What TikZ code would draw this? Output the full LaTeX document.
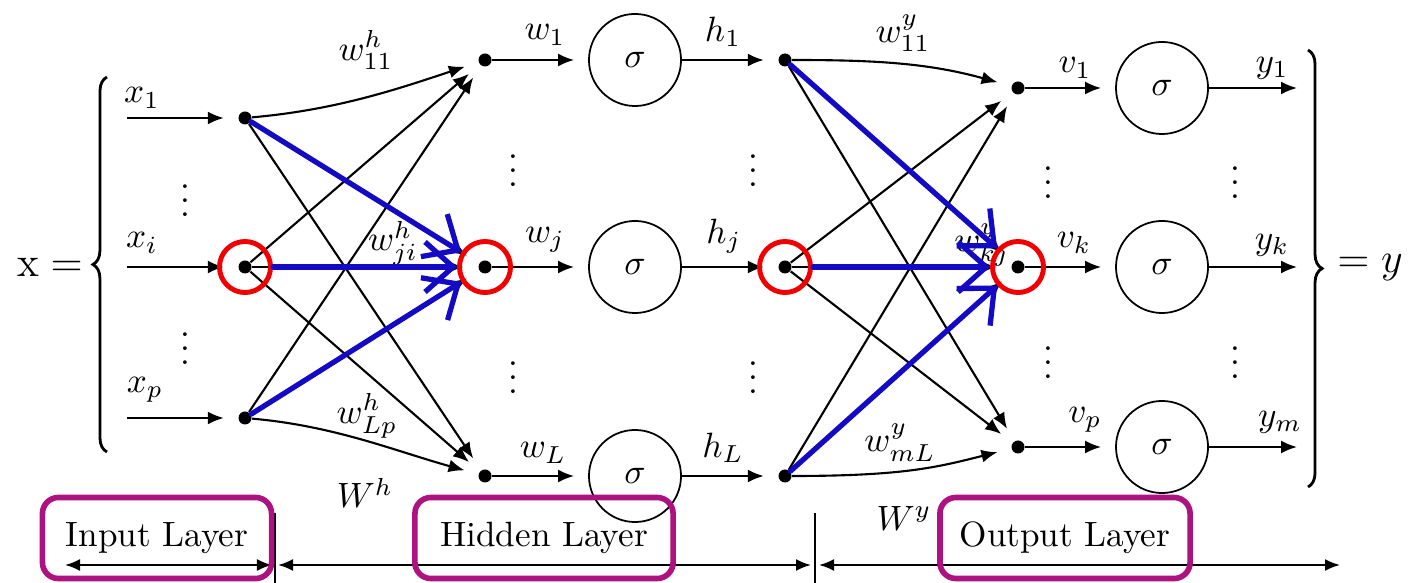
\documentclass[tikz,border=0pt]{standalone}
\usepackage{amsmath}
\usetikzlibrary{arrows.meta, decorations.pathreplacing, positioning}
\definecolor{hiRed}{RGB}{240,0,0}
\definecolor{hiBlue}{RGB}{20,10,195}
\definecolor{boxMag}{RGB}{172,18,128}
\tikzset{
	dot/.style={circle, fill=black, inner sep=0pt, minimum size=1.3mm},
	unit/.style={circle, draw, line width=0.5pt, minimum size=9.2mm, inner sep=0pt},
	wire/.style={-{Latex[length=1.6mm,width=1.3mm]}, line width=0.6pt, shorten >=1.4mm},
	span/.style={{Latex[length=1.5mm,width=1.2mm]}-{Latex[length=1.5mm,width=1.2mm]}, line width=0.6pt},
	hilite/.style={circle, draw=hiRed, line width=1.4pt, minimum size=5.1mm, inner sep=0pt},
	flow/.style={-{Straight Barb[length=2.8mm,width=5mm]}, draw=hiBlue, line width=1.5pt, line cap=round},
	layerbox/.style={draw=boxMag, line width=1.6pt, rounded corners=1.6mm, minimum height=8.1mm},
	lab/.style={inner sep=0.5pt},
	dots/.style={inner sep=0pt}
}

\begin{document}
\begin{tikzpicture}[x=0.01cm, y=-0.01cm]
	\useasboundingbox (0,0) rectangle (1422,583);
	
	% --- Input layer ---
	\foreach \i/\y in {1/118, 2/267, 3/418} {
		\coordinate (xin\i) at (127,\y);
		\node[dot] (in\i) at (245,\y) {};
		\draw[wire] (xin\i) -- (in\i);
	}
	\node[lab] (lx1) at (142,98) {$x_1$};
	\node[lab] (lxi) at (142,243) {$x_i$};
	\node[lab] (lxp) at (145,390) {$x_p$};
	
	% --- Hidden layer ---
	\foreach \j/\y in {1/60, 2/267, 3/476} {
		\node[dot] (hs\j) at (485,\y) {};
		\node[unit] (sg\j) at (635,\y) {$\sigma$};
		\node[dot] (ho\j) at (785,\y) {};
		\draw[wire] (hs\j) -- (sg\j);
		\draw[wire] (sg\j) -- (ho\j);
	}
	
	% input -> hidden
	\foreach \i/\j in {1/2, 1/3, 2/1, 2/2, 2/3, 3/1, 3/2}
		\draw[wire] (in\i) -- (hs\j);
	\draw[wire] (in1) .. controls +(90,-8) and +(-90,30) .. (hs1);
	\draw[wire] (in3) .. controls +(90,8) and +(-90,-25) .. (hs3);
	
	\node[lab] (lwh11) at (366,50) {$w^h_{11}$};
	\node[lab] (lwhji) at (393,243) {$w^h_{ji}$};
	\node[lab] (lwhLp) at (367,416) {$w^h_{Lp}$};
	\node[lab] (lWh) at (365,493) {$W^h$};
	\node[lab] (lw1) at (545,35) {$w_1$};
	\node[lab] (lwj) at (545,240) {$w_j$};
	\node[lab] (lwL) at (543,453) {$w_L$};
	\node[lab] (lh1) at (723,32) {$h_1$};
	\node[lab] (lhj) at (724,236) {$h_j$};
	\node[lab] (lhL) at (723,448) {$h_L$};
	
	% --- Output layer ---
	\foreach \k/\y in {1/88, 2/267, 3/447} {
		\node[dot] (os\k) at (1018,\y) {};
		\node[unit] (so\k) at (1162,\y) {$\sigma$};
		\coordinate (yout\k) at (1297,\y);
		\draw[wire] (os\k) -- (so\k);
		\draw[wire, shorten >=0pt] (so\k) -- (yout\k);
	}
	
	% hidden -> output
	\foreach \j/\k in {1/2, 1/3, 2/1, 2/2, 2/3, 3/1, 3/2}
		\draw[wire] (ho\j) -- (os\k);
	\draw[wire] (ho1) .. controls +(90,0) and +(-90,-25) .. (os1);
	\draw[wire] (ho3) .. controls +(120,0) and +(-80,20) .. (os3);
	
	\node[lab] (lwy11) at (903,33) {$w^y_{11}$};
	\node[lab] (lwykj) at (982,245) {$w^y_{kj}$};
	\node[lab] (lwymL) at (900,443) {$w^y_{mL}$};
	\node[lab] (lWy) at (904,518) {$W^y$};
	\node[lab] (lv1) at (1075,68) {$v_1$};
	\node[lab] (lvk) at (1074,243) {$v_k$};
	\node[lab] (lvp) at (1085,420) {$v_p$};
	\node[lab] (ly1) at (1272,68) {$y_1$};
	\node[lab] (lyk) at (1272,245) {$y_k$};
	\node[lab] (lym) at (1280,422) {$y_m$};
	
	% vertical dots
	\foreach \x/\y [count=\n] in {185/190, 185/338, 513/160, 513/367, 753/160, 753/367, 1048/172, 1048/352, 1235/172, 1235/352}
		\node[dots] (vd\n) at (\x,\y) {$\vdots$};
	
	% braces
	\draw[decorate, decoration={brace, amplitude=4pt}, line width=0.8pt] (107,452) -- (107,77);
	\node[font=\large] (xeq) at (50,267) {$\mathrm{x} =$};
	\draw[decorate, decoration={brace, amplitude=4pt}, line width=0.8pt] (1308,50) -- (1308,487);
	\node[font=\large] (yeq) at (1370,268) {$= y$};
	
	% --- Highlight ---
	\node[hilite] (rc1) at (in2) {};
	\node[hilite] (rc2) at (hs2) {};
	\node[hilite] (rc3) at (ho2) {};
	\node[hilite] (rc4) at (os2) {};
	\draw[flow] (in1) -- (rc2);
	\draw[flow] (rc1) -- (rc2);
	\draw[flow] (in3) -- (rc2);
	\draw[flow] (ho1) -- (rc4);
	\draw[flow] (rc3) -- (rc4);
	\draw[flow] (ho3) -- (rc4);
	
	% --- Layer axis ---
	\coordinate (ax0) at (65,565);
	\coordinate (ax1) at (272,565);
	\coordinate (ax2) at (278,565);
	\coordinate (ax3) at (811,565);
	\coordinate (ax4) at (819,565);
	\coordinate (ax5) at (1340,565);
	\draw[span] (ax0) -- (ax1);
	\draw[span] (ax2) -- (ax3);
	\draw[span] (ax4) -- (ax5);
	\coordinate (tk1a) at (275,513);
	\coordinate (tk1b) at (275,583);
	\coordinate (tk2a) at (815,513);
	\coordinate (tk2b) at (815,583);
	\draw[line width=0.6pt] (tk1a) -- (tk1b);
	\draw[line width=0.6pt] (tk2a) -- (tk2b);
	
	\node[layerbox, minimum width=2.29cm] (inbox) at (157,538) {Input Layer};
	\node[layerbox, minimum width=2.58cm] (hidbox) at (544,538) {Hidden Layer};
	\node[layerbox, minimum width=2.50cm] (outbox) at (1065,538) {Output Layer};
\end{tikzpicture}
\end{document}
